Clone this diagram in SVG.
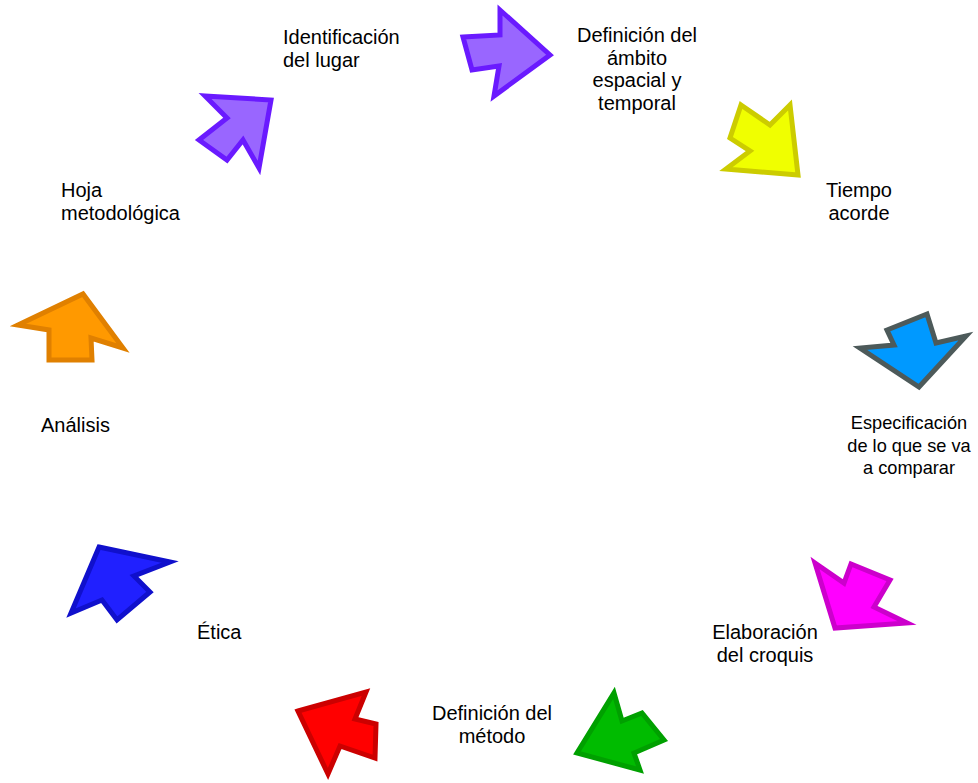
<svg xmlns="http://www.w3.org/2000/svg" width="978" height="783" viewBox="0 0 978 783">
<style>
text{font-family:"Liberation Sans",Arial,sans-serif;font-size:20px;fill:#000}
.c{text-anchor:middle}
.s{font-size:18.2px}
.a{stroke-width:5;stroke-linejoin:miter}
</style>
<rect width="978" height="783" fill="#fff"/>
<g id="connectors">
<polygon id="arrow1" class="a" fill="#9966ff" stroke="#6a1aff" points="463,37 500,35 500,10 550,55 494,96 499,66 472,70"/>
<polygon id="arrow2" class="a" fill="#f0ff00" stroke="#cccc00" points="741,105 770,125 790,105 798,175 726,169 750,151 730,138"/>
<polygon id="arrow3" class="a" fill="#0099ff" stroke="#4d5a5a" points="887,330 927,314 936,343 966,336 919,387 860,348 894,345"/>
<polygon id="arrow4" class="a" fill="#ff00ff" stroke="#cc00cc" points="815,563 844,583 851,564 890,580 874,607 907,623 835,628"/>
<polygon id="arrow5" class="a" fill="#00bb00" stroke="#00a000" points="614,693 622,721 642,713 664,740 634,753 640,770 577,753"/>
<polygon id="arrow6" class="a" fill="#ff0000" stroke="#cc0000" points="298,711 366,692 355,719 376,724 375,758 340,746 328,774"/>
<polygon id="arrow7" class="a" fill="#2020ff" stroke="#1010cc" points="99,547 170,562 134,576 150,592 117,620 102,600 71,613"/>
<polygon id="arrow8" class="a" fill="#ff9900" stroke="#e08000" points="18,325 83,294 123,348 91,338 92,360 49,360 49,330"/>
<polygon id="arrow9" class="a" fill="#9966ff" stroke="#6a1aff" points="205,96 271,100 259,168 243,140 227,160 199,140 227,118"/>
</g>
<g id="n1"><text x="283" y="44">Identificación</text><text x="283" y="67">del lugar</text></g>
<g id="n2"><text class="c" x="637" y="42">Definición del</text><text class="c" x="637" y="64.5">ámbito</text><text class="c" x="637" y="87">espacial y</text><text class="c" x="637" y="109.5">temporal</text></g>
<g id="n3"><text class="c" x="859" y="197">Tiempo</text><text class="c" x="859" y="219.5">acorde</text></g>
<g id="n4"><text class="c s" x="909" y="429">Especificación</text><text class="c s" x="909" y="451.5">de lo que se va</text><text class="c s" x="909" y="474">a comparar</text></g>
<g id="n5"><text class="c" x="765" y="639">Elaboración</text><text class="c" x="765" y="661.5">del croquis</text></g>
<g id="n6"><text class="c" x="492" y="720">Definición del</text><text class="c" x="492" y="742.5">método</text></g>
<g id="n7"><text x="197" y="639">Ética</text></g>
<g id="n8"><text x="41" y="432">Análisis</text></g>
<g id="n9"><text x="61" y="197">Hoja</text><text x="61" y="219.5">metodológica</text></g>
</svg>
